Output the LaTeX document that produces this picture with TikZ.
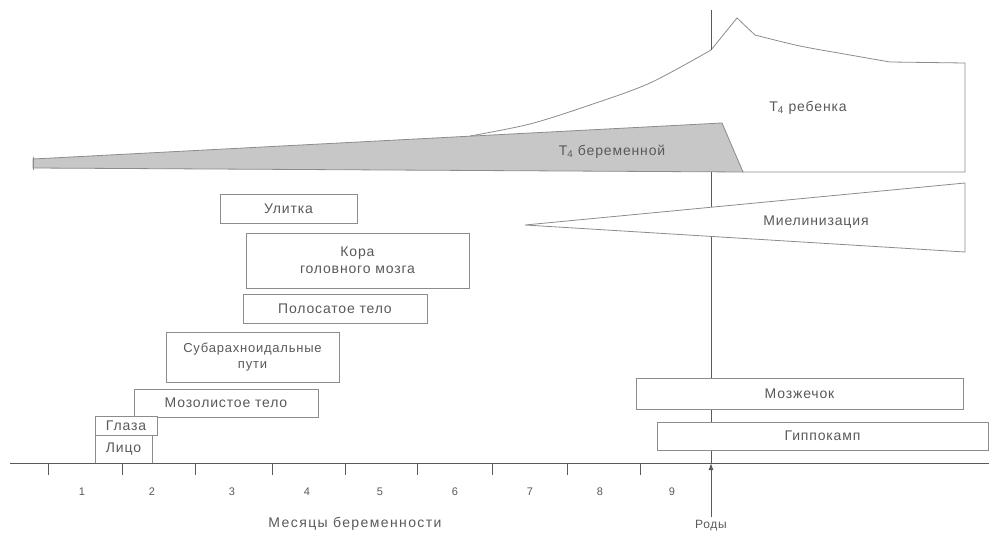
\documentclass[tikz,border=0pt]{standalone}
\usepackage{fontspec}
\setmainfont{Liberation Sans}
\newfontfamily\spaced[LetterSpace=6]{Liberation Sans}
\newfontfamily\wide[LetterSpace=10]{Liberation Sans}
\usetikzlibrary{arrows.meta}
\definecolor{ink}{gray}{0.35}
\definecolor{edge}{gray}{0.55}
\definecolor{shade}{gray}{0.78}
\begin{document}
\begin{tikzpicture}[x=1pt,y=-1pt,
  box/.style={draw=edge, line width=0.8pt, fill=white, rectangle, inner sep=0pt, text=ink, font=\spaced\fontsize{14}{17}\selectfont, align=center},
  lbl/.style={text=ink, font=\spaced\fontsize{14}{17}\selectfont},
  tick/.style={draw=ink, line width=0.8pt},
  num/.style={text=ink, font=\fontsize{11}{13}\selectfont}]
\useasboundingbox (0,0) rectangle (989,535);
% birth line
\coordinate (btop) at (711,10);
\coordinate (baxis) at (711,463);
\draw[ink, line width=1pt] (btop) -- (baxis);
% T4 child region (white fill hides the birth line)
\fill[white] plot[smooth] coordinates {(470,136) (530,124) (590,105) (650,83) (711,50)}
  -- (737,18) -- (755,35)
  -- plot[smooth] coordinates {(755,35) (800,46) (850,55) (890,62)} -- (965,63)
  -- (965,172) -- (743,172) -- (722,123) -- cycle;
\draw[edge, line width=0.8pt] plot[smooth] coordinates {(470,136) (530,124) (590,105) (650,83) (711,50)}
  -- (737,18) -- (755,35)
  -- plot[smooth] coordinates {(755,35) (800,46) (850,55) (890,62)} -- (965,63)
  -- (965,172) -- (743,172);
\draw[ink, line width=1pt] (711,10) -- (711,50);
% T4 mother wedge
\filldraw[fill=shade, draw=edge, line width=0.8pt] (33,159) -- (722,123) -- (743,172) -- (33,168) -- cycle;
\draw[edge, line width=1pt] (33,157) -- (33,170);
\node[lbl] (t4mother) at (612,152) {T\textsubscript{4} беременной};
\node[lbl] (t4child) at (808,108) {T\textsubscript{4} ребенка};
% myelination wedge
\filldraw[fill=white, draw=edge, line width=0.8pt] (525,225) -- (965,183) -- (965,252) -- cycle;
\node[lbl] (myel) at (816,222) {Миелинизация};
% boxes
\node[box, minimum width=137pt, minimum height=29pt] (ulitka) at (288.5,208.5) {Улитка};
\node[box, minimum width=223pt, minimum height=55pt] (kora) at (357.5,260.5) {Кора\\головного мозга};
\node[box, minimum width=184pt, minimum height=29pt] (polos) at (335,308.5) {Полосатое тело};
\node[box, minimum width=173pt, minimum height=50pt, font=\spaced\fontsize{13}{16}\selectfont] (subar) at (252.5,357) {Субарахноидальные\\пути};
\node[box, minimum width=184pt, minimum height=28pt] (mozol) at (226,403) {Мозолистое тело};
\node[box, minimum width=62pt, minimum height=19pt] (glaza) at (126,425.5) {Глаза};
\node[box, minimum width=57pt, minimum height=28pt] (litso) at (123.5,449) {Лицо};
\draw[ink, line width=1.6pt] (litso.south west) -- (litso.south east);
\node[box, minimum width=327pt, minimum height=31pt] (mozzh) at (799.5,393.5) {Мозжечок};
\node[box, minimum width=331pt, minimum height=28pt] (gippo) at (822.5,436) {Гиппокамп};
% axis
\coordinate (axl) at (10,463);
\coordinate (axr) at (989,463);
\draw[ink, line width=1pt] (axl) -- (axr);
\foreach \x in {48,122,195,272,345,417,492,567,640}
  \draw[tick] (\x,463) -- (\x,475);
\foreach \x/\n in {82/1,152/2,232/3,307/4,380/5,455/6,530/7,600/8,672/9}
  \node[num] at (\x,492) {\n};
\node[text=ink, font=\wide\fontsize{14}{17}\selectfont] (months) at (355,524) {Месяцы беременности};
\node[text=ink, font=\spaced\fontsize{12}{14}\selectfont] (rody) at (711,526) {Роды};
\draw[ink, line width=1pt, -{Latex[length=7pt,width=5pt]}] (rody.north) -- (baxis);
\end{tikzpicture}
\end{document}
